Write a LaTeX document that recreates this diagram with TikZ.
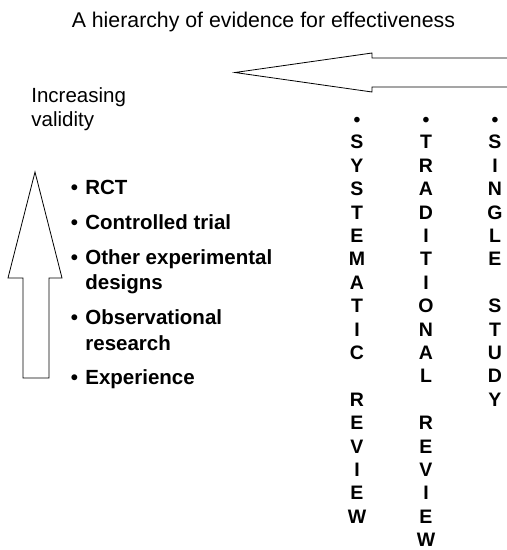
\documentclass[tikz,border=0pt]{standalone}
\usepackage{fontspec}
\setmainfont{Liberation Sans}
\usepackage{xcolor}
\usepackage{tikz}
\newcommand{\bul}{\makebox[14.6pt][l]{\textbullet}}
\newcommand{\ind}{\hspace*{14.6pt}}
\newcommand{\lettercol}[3]{\node[letter] (#2-0) at (#1,119) {\textbullet};
  \foreach \ch [count=\i] in {#3}{\node[letter] (#2-\i) at (#1,{118.5+23.4*\i}) {\ch};}}

\begin{document}
\begin{tikzpicture}[x=1pt,y=-1pt,line width=0.8pt,
  plain/.style={inner sep=0pt,font=\fontsize{20.5}{24}\selectfont},
  item/.style={inner sep=0pt,anchor=base west,align=left,font=\fontsize{20.5}{25.5}\selectfont\bfseries},
  letter/.style={inner sep=0pt,text height=14pt,text depth=0pt,font=\fontsize{19.5}{20}\selectfont\bfseries}]
\useasboundingbox (0,0) rectangle (507,550);
% ---- TITLE ----
\node[plain,anchor=base,font=\fontsize{21.3}{24}\selectfont] (title) at (263.4,27.3) {A hierarchy of evidence for effectiveness};
% ---- ARROW TO THE LEFT ----
\draw (507,58) -- (372,58) -- (372,53) -- (235,72.5) -- (372,92) -- (372,87) -- (507,87);
% ---- VALIDITY ----
\node[plain,anchor=base west,align=left] (valid) at (31,126.7) {Increasing\\validity};
\draw (23,378) -- (23,278) -- (8,278) -- (35,172) -- (62,278) -- (49,278) -- (49,378) -- cycle;
\node[item] (rct) at (70.4,194) {\bul RCT};
\node[item] (ctrl) at (70.4,229) {\bul Controlled trial};
\node[item] (other) at (70.4,289.5) {\bul Other experimental\\\ind designs};
\node[item] (obs) at (70.4,350) {\bul Observational\\\ind research};
\node[item] (exp) at (70.4,384) {\bul Experience};
% ---- REVIEWS ----
\lettercol{357}{sys}{S,Y,S,T,E,M,A,T,I,C,,R,E,V,I,E,W}
\lettercol{426}{trad}{T,R,A,D,I,T,I,O,N,A,L,,R,E,V,I,E,W}
\lettercol{495}{single}{S,I,N,G,L,E,,S,T,U,D,Y}
\end{tikzpicture}
\end{document}
